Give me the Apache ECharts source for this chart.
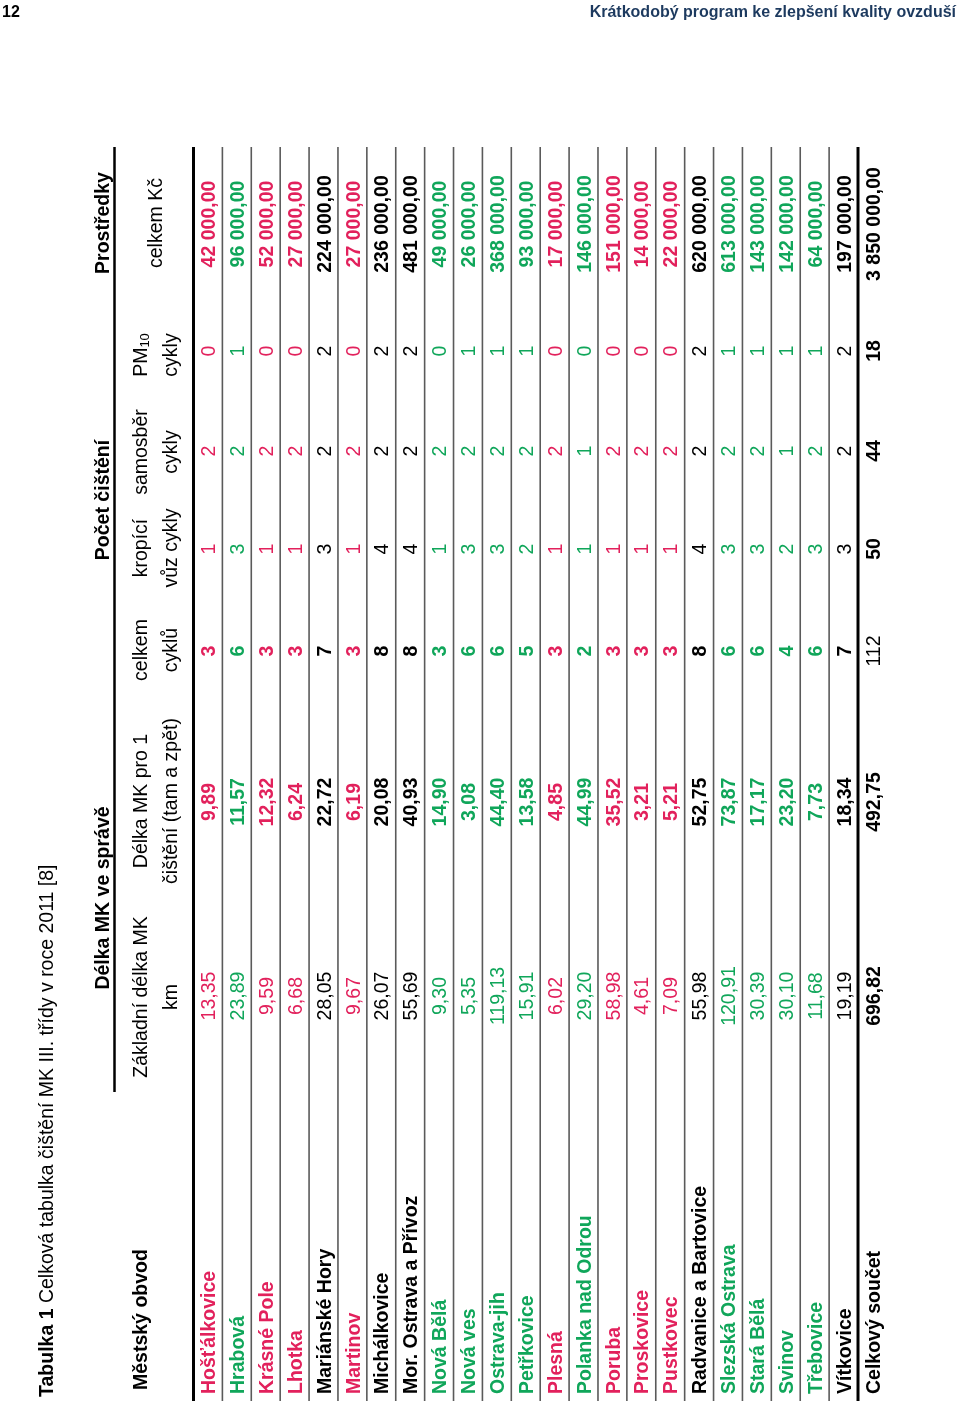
<!DOCTYPE html>
<html><head><meta charset="utf-8">
<script src="https://cdn.jsdelivr.net/npm/echarts@6/dist/echarts.min.js"></script>
<style>html,body{margin:0;padding:0;background:#fff}#c{width:960px;height:1406px}</style>
</head><body><div id="c"></div>
<script>
// ---- data ----
const districts = ['Hošťálkovice','Hrabová','Krásné Pole','Lhotka','Mariánské Hory','Martinov','Michálkovice','Mor. Ostrava a Přívoz','Nová Bělá','Nová ves','Ostrava-jih','Petřkovice','Plesná','Polanka nad Odrou','Poruba','Proskovice','Pustkovec','Radvanice a Bartovice','Slezská Ostrava','Stará Bělá','Svinov','Třebovice','Vítkovice','Celkový součet'];
const rowGroup = ['r','g','r','r','k','r','k','k','g','g','g','g','r','g','r','r','r','k','g','g','g','g','k','k'];
const kmBase = [13.35,23.89,9.59,6.68,28.05,9.67,26.07,55.69,9.30,5.35,119.13,15.91,6.02,29.20,58.98,4.61,7.09,55.98,120.91,30.39,30.10,11.68,19.19,696.82];
const kmPerClean = [9.89,11.57,12.32,6.24,22.72,6.19,20.08,40.93,14.90,3.08,44.40,13.58,4.85,44.99,35.52,3.21,5.21,52.75,73.87,17.17,23.20,7.73,18.34,492.75];
const cyclesTotal = [3,6,3,3,7,3,8,8,3,6,6,5,3,2,3,3,3,8,6,6,4,6,7,112];
const cyclesSprinkler = [1,3,1,1,3,1,4,4,1,3,3,2,1,1,1,1,1,4,3,3,2,3,3,50];
const cyclesSweeper = [2,2,2,2,2,2,2,2,2,2,2,2,2,1,2,2,2,2,2,2,1,2,2,44];
const cyclesPM10 = [0,1,0,0,2,0,2,2,0,1,1,1,0,0,0,0,0,2,1,1,1,1,2,18];
const costCZK = [42000,96000,52000,27000,224000,27000,236000,481000,49000,26000,368000,93000,17000,146000,151000,14000,22000,620000,613000,143000,142000,64000,197000,3850000];

// ---- styles / layout ----
const colorMap = {r:'#e2215c', g:'#10a65a', k:'#000000'};
const FF = '"Liberation Sans", Arial, sans-serif';
const FS = 19.5;
const fontOf = b => (b ? 'bold ' : '') + FS + 'px ' + FF;
const YMAX = 1254;              // table height in axis units (grid height in px)
const TXT_SHIFT = 1.8;          // optical offset of rotated text across the row
const py = v => 1401 - v;       // axis value -> pixel (for header graphics)
const fmt2 = v => v.toFixed(2).replace('.', ',');
const fmtCost = v => String(v).replace(/\B(?=(\d{3})+(?!\d))/g, ' ') + ',00';

const cols = [
  {v:7,    align:'left',   bold:true,  tb:true,  get:i=>districts[i]},
  {v:405,  align:'center', bold:false, tb:true,  get:i=>fmt2(kmBase[i])},
  {v:599,  align:'center', bold:true,  tb:true,  get:i=>fmt2(kmPerClean[i])},
  {v:750,  align:'center', bold:true,  tb:false, get:i=>String(cyclesTotal[i])},
  {v:852,  align:'center', bold:false, tb:true,  get:i=>String(cyclesSprinkler[i])},
  {v:950,  align:'center', bold:false, tb:true,  get:i=>String(cyclesSweeper[i])},
  {v:1050, align:'center', bold:false, tb:true,  get:i=>String(cyclesPM10[i])},
  {v:1177, align:'center', bold:true,  tb:true,  get:i=>fmtCost(costCZK[i])}
];

function vtext(x, y, text, bold, align, fill) {
  return {type:'text', x:x, y:y, rotation:Math.PI/2,
    style:{text:text, font:fontOf(bold), fill:fill||'#000', align:align||'center', verticalAlign:'middle'}};
}

const graphics = [
  {type:'text', x:2, y:13, style:{text:'12', font:'bold 16px ' + FF, fill:'#000', align:'left', verticalAlign:'middle'}},
  {type:'text', x:956, y:13, style:{text:'Krátkodobý program ke zlepšení kvality ovzduší', font:'bold 16px ' + FF, fill:'#1d3a5f', align:'right', verticalAlign:'middle'}},
  {type:'text', x:48, y:1397, rotation:Math.PI/2,
    style:{text:'{b|Tabulka 1} Celková tabulka čištění MK III. třídy v roce 2011 [8]', font:fontOf(false), fill:'#000', align:'left', verticalAlign:'middle',
      rich:{b:{font:fontOf(true), fill:'#000'}}}},
  vtext(142, 1390, 'Městský obvod', true, 'left'),
  vtext(104, py(503), 'Délka MK ve správě', true),
  vtext(104, py(901), 'Počet čištění', true),
  vtext(104, py(1178), 'Prostředky', true),
  vtext(142, py(404), 'Základní délka MK', false),
  vtext(172, py(404), 'km', false),
  vtext(142, py(600), 'Délka MK pro 1', false),
  vtext(172, py(600), 'čištění (tam a zpět)', false),
  vtext(142, py(751), 'celkem', false),
  vtext(172, py(751), 'cyklů', false),
  vtext(142, py(853), 'kropící', false),
  vtext(172, py(853), 'vůz cykly', false),
  vtext(142, py(949), 'samosběr', false),
  vtext(172, py(949), 'cykly', false),
  {type:'text', x:142, y:py(1046), rotation:Math.PI/2,
    style:{text:'PM{s|10}', font:fontOf(false), fill:'#000', align:'center', verticalAlign:'middle',
      rich:{s:{font:'13px ' + FF, fill:'#000', verticalAlign:'bottom', padding:[6,0,0,0]}}}},
  vtext(172, py(1046), 'cykly', false),
  vtext(157, py(1178), 'celkem Kč', false),
  {type:'line', shape:{x1:114.5, y1:147, x2:114.5, y2:py(309)}, style:{stroke:'#000', lineWidth:2.5}}
];

const chart = echarts.init(document.getElementById('c'));
chart.setOption({
  animation:false,
  backgroundColor:'#fff',
  grid:{left:193.5, right:73.1, top:147, bottom:5},
  xAxis:{type:'category', data:districts, show:false, boundaryGap:true},
  yAxis:{type:'value', min:0, max:YMAX, show:false},
  graphic:graphics,
  series:[{
    type:'custom', clip:false,
    data:districts.map((d,i)=>[i]),
    renderItem:function(params, api){
      const i = api.value(0);
      const bw = api.size([1,0])[0];
      const base = api.coord([i, 0]);
      const top = api.coord([i, YMAX])[1];
      const isTotal = i === districts.length - 1;
      const lx = base[0] - bw/2;
      const heavy = (i === 0 || isTotal);
      const children = [{type:'line', shape:{x1:lx, y1:top, x2:lx, y2:base[1]},
        style:{stroke: heavy ? '#000' : '#5a5a5a', lineWidth: heavy ? 3 : 1.6}}];
      const fill = colorMap[rowGroup[i]];
      cols.forEach(col => {
        const p = api.coord([i, col.v]);
        const bold = isTotal ? col.tb : col.bold;
        children.push(vtext(p[0] + TXT_SHIFT, p[1], col.get(i), bold, col.align, fill));
      });
      return {type:'group', children:children};
    }
  }]
});
</script>
</body></html>
